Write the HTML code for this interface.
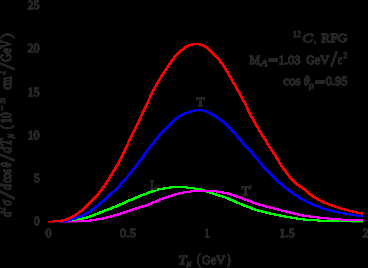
<!DOCTYPE html>
<html><head><meta charset="utf-8"><style>
html,body{margin:0;padding:0;background:#000;}
body{width:368px;height:268px;overflow:hidden;position:relative;}
svg{position:absolute;left:0;top:0;display:block;}
text{font-family:"Liberation Serif",serif;}
</style></head><body>
<svg width="368" height="268" viewBox="0 0 368 268">
<g shape-rendering="crispEdges">
<path fill="#00ff00" d="M169 186h19v1h-19zM163 187h32v1h-32zM157 188h14v1h-14zM186 188h16v1h-16zM154 189h11v1h-11zM194 189h11v1h-11zM151 190h8v1h-8zM200 190h8v1h-8zM148 191h8v1h-8zM203 191h8v1h-8zM146 192h7v1h-7zM206 192h8v1h-8zM143 193h7v1h-7zM209 193h8v1h-8zM140 194h7v1h-7zM212 194h8v1h-8zM138 195h7v1h-7zM215 195h8v1h-8zM135 196h7v1h-7zM218 196h8v1h-8zM133 197h7v1h-7zM222 197h7v1h-7zM131 198h6v1h-6zM225 198h6v1h-6zM128 199h7v1h-7zM227 199h7v1h-7zM126 200h7v1h-7zM229 200h7v1h-7zM124 201h6v1h-6zM232 201h6v1h-6zM122 202h6v1h-6zM234 202h6v1h-6zM119 203h7v1h-7zM236 203h7v1h-7zM117 204h7v1h-7zM239 204h6v1h-6zM115 205h6v1h-6zM241 205h7v1h-7zM112 206h7v1h-7zM243 206h8v1h-8zM110 207h7v1h-7zM246 207h7v1h-7zM107 208h7v1h-7zM249 208h7v1h-7zM104 209h8v1h-8zM251 209h8v1h-8zM102 210h7v1h-7zM254 210h9v1h-9zM99 211h7v1h-7zM257 211h10v1h-10zM97 212h7v1h-7zM261 212h10v1h-10zM94 213h7v1h-7zM265 213h11v1h-11zM92 214h7v1h-7zM269 214h12v1h-12zM89 215h7v1h-7zM274 215h12v1h-12zM86 216h8v1h-8zM279 216h13v1h-13zM82 217h9v1h-9zM284 217h14v1h-14zM78 218h10v1h-10zM290 218h15v1h-15zM72 219h12v1h-12zM296 219h23v1h-23zM64 220h16v1h-16zM303 220h50v1h-50zM48 221h26v1h-26zM317 221h46v1h-46zM48 222h18v1h-18zM351 222h12v1h-12z"/>
<path fill="#ff00ff" d="M190 190h28v1h-28zM183 191h41v1h-41zM178 192h13v1h-13zM216 192h13v1h-13zM174 193h10v1h-10zM222 193h10v1h-10zM171 194h9v1h-9zM227 194h8v1h-8zM168 195h8v1h-8zM230 195h8v1h-8zM165 196h8v1h-8zM233 196h8v1h-8zM162 197h8v1h-8zM236 197h7v1h-7zM159 198h8v1h-8zM239 198h7v1h-7zM157 199h7v1h-7zM242 199h7v1h-7zM155 200h6v1h-6zM244 200h8v1h-8zM152 201h7v1h-7zM247 201h7v1h-7zM150 202h7v1h-7zM250 202h7v1h-7zM148 203h6v1h-6zM252 203h8v1h-8zM145 204h7v1h-7zM255 204h9v1h-9zM141 205h9v1h-9zM258 205h9v1h-9zM138 206h9v1h-9zM262 206h9v1h-9zM135 207h8v1h-8zM265 207h10v1h-10zM132 208h8v1h-8zM269 208h10v1h-10zM129 209h8v1h-8zM273 209h9v1h-9zM126 210h8v1h-8zM277 210h10v1h-10zM123 211h8v1h-8zM281 211h10v1h-10zM120 212h8v1h-8zM285 212h10v1h-10zM117 213h8v1h-8zM289 213h10v1h-10zM113 214h9v1h-9zM293 214h11v1h-11zM110 215h9v1h-9zM297 215h14v1h-14zM106 216h9v1h-9zM302 216h17v1h-17zM102 217h10v1h-10zM309 217h20v1h-20zM96 218h12v1h-12zM317 218h24v1h-24zM89 219h15v1h-15zM327 219h36v1h-36zM76 220h21v1h-21zM339 220h24v1h-24zM48 221h43v1h-43zM48 222h30v1h-30z"/>
<path fill="#0000ff" d="M194 109h10v1h-10zM190 110h17v1h-17zM187 111h9v1h-9zM202 111h8v1h-8zM184 112h8v1h-8zM205 112h6v1h-6zM182 113h7v1h-7zM208 113h5v1h-5zM180 114h6v1h-6zM209 114h6v1h-6zM178 115h6v1h-6zM211 115h6v1h-6zM177 116h5v1h-5zM213 116h5v1h-5zM175 117h5v1h-5zM215 117h5v1h-5zM174 118h5v1h-5zM216 118h5v1h-5zM173 119h4v1h-4zM218 119h4v1h-4zM172 120h4v1h-4zM219 120h5v1h-5zM171 121h4v1h-4zM220 121h5v1h-5zM170 122h4v1h-4zM222 122h4v1h-4zM169 123h4v1h-4zM223 123h4v1h-4zM168 124h4v1h-4zM224 124h4v1h-4zM167 125h4v1h-4zM225 125h4v1h-4zM166 126h4v1h-4zM226 126h4v1h-4zM165 127h4v1h-4zM227 127h4v1h-4zM164 128h4v1h-4zM228 128h4v1h-4zM163 129h4v1h-4zM229 129h4v1h-4zM162 130h4v1h-4zM230 130h4v1h-4zM161 131h4v1h-4zM231 131h4v1h-4zM160 132h4v1h-4zM232 132h4v1h-4zM159 133h4v1h-4zM233 133h4v1h-4zM158 134h4v1h-4zM234 134h4v1h-4zM158 135h3v1h-3zM235 135h3v1h-3zM157 136h3v1h-3zM236 136h3v1h-3zM156 137h3v1h-3zM236 137h4v1h-4zM155 138h4v1h-4zM237 138h4v1h-4zM154 139h4v1h-4zM238 139h4v1h-4zM153 140h4v1h-4zM239 140h4v1h-4zM153 141h3v1h-3zM240 141h3v1h-3zM152 142h3v1h-3zM241 142h3v1h-3zM151 143h4v1h-4zM242 143h3v1h-3zM150 144h4v1h-4zM242 144h4v1h-4zM149 145h4v1h-4zM243 145h4v1h-4zM149 146h3v1h-3zM244 146h4v1h-4zM148 147h3v1h-3zM245 147h4v1h-4zM147 148h4v1h-4zM246 148h4v1h-4zM146 149h4v1h-4zM247 149h4v1h-4zM146 150h3v1h-3zM248 150h4v1h-4zM145 151h3v1h-3zM249 151h4v1h-4zM144 152h3v1h-3zM250 152h3v1h-3zM143 153h4v1h-4zM251 153h3v1h-3zM143 154h3v1h-3zM252 154h3v1h-3zM142 155h3v1h-3zM252 155h4v1h-4zM141 156h4v1h-4zM253 156h4v1h-4zM141 157h3v1h-3zM254 157h4v1h-4zM140 158h3v1h-3zM255 158h4v1h-4zM139 159h4v1h-4zM256 159h3v1h-3zM138 160h4v1h-4zM257 160h3v1h-3zM138 161h3v1h-3zM257 161h4v1h-4zM137 162h3v1h-3zM258 162h4v1h-4zM136 163h4v1h-4zM259 163h4v1h-4zM135 164h4v1h-4zM260 164h3v1h-3zM135 165h3v1h-3zM261 165h3v1h-3zM134 166h3v1h-3zM261 166h4v1h-4zM133 167h4v1h-4zM262 167h4v1h-4zM132 168h4v1h-4zM263 168h4v1h-4zM131 169h4v1h-4zM264 169h4v1h-4zM131 170h3v1h-3zM265 170h4v1h-4zM130 171h3v1h-3zM266 171h4v1h-4zM129 172h4v1h-4zM267 172h4v1h-4zM128 173h4v1h-4zM268 173h4v1h-4zM127 174h4v1h-4zM269 174h4v1h-4zM127 175h3v1h-3zM270 175h4v1h-4zM126 176h3v1h-3zM271 176h4v1h-4zM125 177h3v1h-3zM272 177h4v1h-4zM124 178h4v1h-4zM273 178h4v1h-4zM123 179h4v1h-4zM274 179h4v1h-4zM122 180h4v1h-4zM275 180h4v1h-4zM121 181h4v1h-4zM276 181h4v1h-4zM120 182h4v1h-4zM277 182h5v1h-5zM120 183h3v1h-3zM278 183h5v1h-5zM119 184h3v1h-3zM280 184h4v1h-4zM118 185h4v1h-4zM281 185h4v1h-4zM117 186h4v1h-4zM282 186h4v1h-4zM116 187h4v1h-4zM283 187h5v1h-5zM115 188h4v1h-4zM284 188h5v1h-5zM114 189h4v1h-4zM286 189h4v1h-4zM113 190h4v1h-4zM287 190h5v1h-5zM111 191h5v1h-5zM288 191h5v1h-5zM110 192h4v1h-4zM290 192h4v1h-4zM109 193h4v1h-4zM291 193h5v1h-5zM108 194h4v1h-4zM292 194h5v1h-5zM107 195h4v1h-4zM294 195h5v1h-5zM106 196h4v1h-4zM295 196h5v1h-5zM105 197h4v1h-4zM297 197h5v1h-5zM104 198h4v1h-4zM298 198h6v1h-6zM103 199h4v1h-4zM300 199h6v1h-6zM102 200h4v1h-4zM302 200h6v1h-6zM100 201h5v1h-5zM304 201h6v1h-6zM99 202h5v1h-5zM306 202h6v1h-6zM98 203h4v1h-4zM308 203h6v1h-6zM97 204h4v1h-4zM310 204h6v1h-6zM96 205h4v1h-4zM312 205h7v1h-7zM94 206h5v1h-5zM314 206h8v1h-8zM93 207h5v1h-5zM317 207h7v1h-7zM91 208h5v1h-5zM320 208h8v1h-8zM90 209h5v1h-5zM322 209h9v1h-9zM89 210h4v1h-4zM326 210h9v1h-9zM87 211h5v1h-5zM329 211h11v1h-11zM85 212h6v1h-6zM333 212h12v1h-12zM83 213h6v1h-6zM338 213h13v1h-13zM81 214h6v1h-6zM343 214h14v1h-14zM79 215h6v1h-6zM349 215h14v1h-14zM76 216h7v1h-7zM355 216h8v1h-8zM74 217h7v1h-7zM70 218h8v1h-8zM66 219h10v1h-10zM57 220h15v1h-15zM48 221h20v1h-20zM48 222h11v1h-11z"/>
<path fill="#ff0000" d="M191 43h10v1h-10zM188 44h16v1h-16zM186 45h7v1h-7zM199 45h7v1h-7zM184 46h6v1h-6zM202 46h6v1h-6zM183 47h5v1h-5zM204 47h5v1h-5zM182 48h4v1h-4zM206 48h4v1h-4zM180 49h5v1h-5zM207 49h4v1h-4zM179 50h5v1h-5zM208 50h4v1h-4zM178 51h4v1h-4zM209 51h4v1h-4zM177 52h4v1h-4zM210 52h4v1h-4zM176 53h4v1h-4zM211 53h4v1h-4zM175 54h4v1h-4zM212 54h4v1h-4zM174 55h4v1h-4zM213 55h4v1h-4zM173 56h4v1h-4zM214 56h4v1h-4zM173 57h3v1h-3zM215 57h4v1h-4zM172 58h3v1h-3zM216 58h4v1h-4zM171 59h4v1h-4zM217 59h4v1h-4zM170 60h4v1h-4zM218 60h3v1h-3zM170 61h3v1h-3zM219 61h3v1h-3zM169 62h3v1h-3zM219 62h4v1h-4zM168 63h4v1h-4zM220 63h4v1h-4zM168 64h3v1h-3zM221 64h3v1h-3zM167 65h3v1h-3zM222 65h3v1h-3zM166 66h4v1h-4zM222 66h4v1h-4zM166 67h3v1h-3zM223 67h3v1h-3zM165 68h3v1h-3zM224 68h3v1h-3zM164 69h4v1h-4zM224 69h3v1h-3zM164 70h3v1h-3zM225 70h3v1h-3zM163 71h3v1h-3zM225 71h4v1h-4zM162 72h4v1h-4zM226 72h3v1h-3zM162 73h3v1h-3zM227 73h3v1h-3zM161 74h3v1h-3zM227 74h3v1h-3zM160 75h4v1h-4zM228 75h3v1h-3zM160 76h3v1h-3zM228 76h4v1h-4zM159 77h3v1h-3zM229 77h3v1h-3zM159 78h3v1h-3zM230 78h3v1h-3zM158 79h3v1h-3zM230 79h3v1h-3zM157 80h4v1h-4zM231 80h3v1h-3zM157 81h3v1h-3zM231 81h3v1h-3zM156 82h3v1h-3zM232 82h3v1h-3zM156 83h3v1h-3zM232 83h4v1h-4zM155 84h3v1h-3zM233 84h3v1h-3zM155 85h3v1h-3zM234 85h3v1h-3zM154 86h3v1h-3zM234 86h3v1h-3zM153 87h3v1h-3zM235 87h3v1h-3zM153 88h3v1h-3zM235 88h3v1h-3zM152 89h3v1h-3zM236 89h3v1h-3zM152 90h3v1h-3zM236 90h4v1h-4zM151 91h3v1h-3zM237 91h3v1h-3zM151 92h3v1h-3zM238 92h3v1h-3zM150 93h3v1h-3zM238 93h3v1h-3zM150 94h3v1h-3zM239 94h3v1h-3zM149 95h3v1h-3zM239 95h3v1h-3zM149 96h3v1h-3zM240 96h3v1h-3zM149 97h2v1h-2zM240 97h3v1h-3zM148 98h3v1h-3zM241 98h3v1h-3zM148 99h2v1h-2zM241 99h3v1h-3zM147 100h3v1h-3zM242 100h3v1h-3zM147 101h3v1h-3zM242 101h4v1h-4zM146 102h3v1h-3zM243 102h3v1h-3zM146 103h3v1h-3zM244 103h3v1h-3zM145 104h3v1h-3zM244 104h3v1h-3zM145 105h3v1h-3zM245 105h2v1h-2zM144 106h3v1h-3zM245 106h3v1h-3zM144 107h3v1h-3zM246 107h2v1h-2zM143 108h3v1h-3zM246 108h3v1h-3zM143 109h3v1h-3zM246 109h3v1h-3zM142 110h3v1h-3zM247 110h3v1h-3zM142 111h3v1h-3zM247 111h3v1h-3zM141 112h3v1h-3zM248 112h3v1h-3zM141 113h3v1h-3zM248 113h3v1h-3zM141 114h2v1h-2zM249 114h3v1h-3zM140 115h3v1h-3zM249 115h3v1h-3zM140 116h2v1h-2zM250 116h3v1h-3zM139 117h3v1h-3zM250 117h4v1h-4zM139 118h3v1h-3zM251 118h3v1h-3zM138 119h3v1h-3zM252 119h3v1h-3zM138 120h3v1h-3zM252 120h3v1h-3zM137 121h3v1h-3zM253 121h3v1h-3zM137 122h3v1h-3zM253 122h3v1h-3zM136 123h3v1h-3zM254 123h3v1h-3zM136 124h3v1h-3zM254 124h3v1h-3zM135 125h3v1h-3zM255 125h3v1h-3zM135 126h3v1h-3zM255 126h4v1h-4zM134 127h3v1h-3zM256 127h3v1h-3zM134 128h3v1h-3zM257 128h3v1h-3zM133 129h3v1h-3zM257 129h3v1h-3zM133 130h3v1h-3zM258 130h3v1h-3zM132 131h3v1h-3zM258 131h4v1h-4zM132 132h3v1h-3zM259 132h3v1h-3zM131 133h3v1h-3zM260 133h3v1h-3zM131 134h3v1h-3zM260 134h3v1h-3zM130 135h3v1h-3zM261 135h3v1h-3zM130 136h3v1h-3zM261 136h4v1h-4zM129 137h3v1h-3zM262 137h3v1h-3zM129 138h3v1h-3zM263 138h3v1h-3zM128 139h3v1h-3zM263 139h4v1h-4zM128 140h3v1h-3zM264 140h3v1h-3zM127 141h3v1h-3zM265 141h3v1h-3zM127 142h3v1h-3zM265 142h3v1h-3zM127 143h2v1h-2zM266 143h3v1h-3zM126 144h3v1h-3zM266 144h4v1h-4zM126 145h3v1h-3zM267 145h3v1h-3zM125 146h3v1h-3zM268 146h3v1h-3zM125 147h3v1h-3zM268 147h4v1h-4zM124 148h3v1h-3zM269 148h3v1h-3zM124 149h3v1h-3zM270 149h3v1h-3zM123 150h3v1h-3zM270 150h4v1h-4zM123 151h3v1h-3zM271 151h3v1h-3zM122 152h3v1h-3zM272 152h3v1h-3zM122 153h3v1h-3zM272 153h3v1h-3zM121 154h3v1h-3zM273 154h3v1h-3zM121 155h3v1h-3zM274 155h3v1h-3zM120 156h3v1h-3zM274 156h3v1h-3zM120 157h3v1h-3zM275 157h3v1h-3zM119 158h3v1h-3zM275 158h4v1h-4zM119 159h3v1h-3zM276 159h3v1h-3zM118 160h3v1h-3zM277 160h3v1h-3zM118 161h3v1h-3zM277 161h3v1h-3zM117 162h3v1h-3zM278 162h3v1h-3zM117 163h3v1h-3zM278 163h4v1h-4zM116 164h3v1h-3zM279 164h3v1h-3zM115 165h4v1h-4zM280 165h3v1h-3zM115 166h3v1h-3zM280 166h4v1h-4zM114 167h3v1h-3zM281 167h3v1h-3zM114 168h3v1h-3zM282 168h3v1h-3zM113 169h3v1h-3zM282 169h4v1h-4zM112 170h4v1h-4zM283 170h4v1h-4zM112 171h3v1h-3zM284 171h3v1h-3zM111 172h3v1h-3zM285 172h3v1h-3zM111 173h3v1h-3zM285 173h4v1h-4zM110 174h3v1h-3zM286 174h4v1h-4zM109 175h4v1h-4zM287 175h3v1h-3zM109 176h3v1h-3zM288 176h3v1h-3zM108 177h3v1h-3zM288 177h4v1h-4zM108 178h3v1h-3zM289 178h4v1h-4zM107 179h3v1h-3zM290 179h4v1h-4zM106 180h4v1h-4zM291 180h4v1h-4zM106 181h3v1h-3zM292 181h4v1h-4zM105 182h3v1h-3zM293 182h4v1h-4zM104 183h4v1h-4zM294 183h4v1h-4zM104 184h3v1h-3zM295 184h5v1h-5zM103 185h3v1h-3zM296 185h5v1h-5zM102 186h4v1h-4zM298 186h5v1h-5zM101 187h4v1h-4zM299 187h5v1h-5zM101 188h3v1h-3zM301 188h5v1h-5zM100 189h3v1h-3zM302 189h5v1h-5zM99 190h4v1h-4zM304 190h4v1h-4zM98 191h4v1h-4zM305 191h4v1h-4zM98 192h3v1h-3zM306 192h4v1h-4zM97 193h3v1h-3zM307 193h4v1h-4zM96 194h4v1h-4zM308 194h5v1h-5zM95 195h4v1h-4zM309 195h5v1h-5zM94 196h4v1h-4zM311 196h5v1h-5zM93 197h4v1h-4zM312 197h6v1h-6zM92 198h4v1h-4zM314 198h5v1h-5zM91 199h4v1h-4zM316 199h5v1h-5zM90 200h4v1h-4zM317 200h6v1h-6zM89 201h4v1h-4zM319 201h6v1h-6zM88 202h4v1h-4zM321 202h7v1h-7zM87 203h4v1h-4zM323 203h7v1h-7zM86 204h4v1h-4zM326 204h7v1h-7zM85 205h4v1h-4zM328 205h8v1h-8zM84 206h4v1h-4zM331 206h8v1h-8zM83 207h4v1h-4zM334 207h8v1h-8zM82 208h4v1h-4zM337 208h9v1h-9zM81 209h4v1h-4zM340 209h9v1h-9zM79 210h5v1h-5zM344 210h10v1h-10zM78 211h5v1h-5zM348 211h10v1h-10zM77 212h4v1h-4zM352 212h11v1h-11zM75 213h5v1h-5zM356 213h7v1h-7zM74 214h4v1h-4zM361 214h2v1h-2zM72 215h5v1h-5zM70 216h5v1h-5zM68 217h6v1h-6zM65 218h7v1h-7zM61 219h9v1h-9zM53 220h14v1h-14zM48 221h15v1h-15zM48 222h7v1h-7z"/>
<rect x="48" y="222" width="320" height="1" fill="#000" fill-opacity="0.6"/>
</g>
<defs><filter id="th" x="0" y="0" width="368" height="268" filterUnits="userSpaceOnUse" color-interpolation-filters="sRGB"><feComponentTransfer><feFuncA type="linear" slope="3" intercept="0"/></feComponentTransfer></filter></defs>
<g fill="#272525" stroke="#272525" filter="url(#th)">
<text x="27.50" y="9.00" font-size="13.30" stroke-width="0.80" textLength="12.10" lengthAdjust="spacingAndGlyphs">25</text>
<text x="27.50" y="52.40" font-size="13.30" stroke-width="0.80" textLength="12.10" lengthAdjust="spacingAndGlyphs">20</text>
<text x="27.50" y="95.50" font-size="13.30" stroke-width="0.80" textLength="12.10" lengthAdjust="spacingAndGlyphs">15</text>
<text x="27.50" y="138.90" font-size="13.30" stroke-width="0.80" textLength="12.10" lengthAdjust="spacingAndGlyphs">10</text>
<text x="34.00" y="182.20" font-size="13.30" stroke-width="0.80" textLength="5.60" lengthAdjust="spacingAndGlyphs">5</text>
<text x="34.00" y="225.30" font-size="13.30" stroke-width="0.80" textLength="5.60" lengthAdjust="spacingAndGlyphs">0</text>
<text x="45.50" y="236.70" font-size="13.30" stroke-width="0.80" textLength="6.00" lengthAdjust="spacingAndGlyphs">0</text>
<text x="119.70" y="236.70" font-size="13.30" stroke-width="0.80" textLength="16.30" lengthAdjust="spacingAndGlyphs">0.5</text>
<text x="204.80" y="236.70" font-size="13.30" stroke-width="0.80" textLength="4.90" lengthAdjust="spacingAndGlyphs">1</text>
<text x="279.20" y="236.70" font-size="13.30" stroke-width="0.80" textLength="15.40" lengthAdjust="spacingAndGlyphs">1.5</text>
<text x="362.50" y="236.70" font-size="13.30" stroke-width="0.80" textLength="6.00" lengthAdjust="spacingAndGlyphs">2</text>
<text x="178.60" y="263.50" font-size="13.30" stroke-width="0.80" textLength="8.00" lengthAdjust="spacingAndGlyphs" font-style="italic">T</text>
<text x="186.60" y="265.80" font-size="9.00" stroke-width="0.60" textLength="4.90" lengthAdjust="spacingAndGlyphs" font-style="italic">&#956;</text>
<text x="197.20" y="263.90" font-size="14.80" stroke-width="0.80" textLength="3.20" lengthAdjust="spacingAndGlyphs">(</text>
<text x="201.80" y="263.50" font-size="13.30" stroke-width="0.80" textLength="23.60" lengthAdjust="spacingAndGlyphs">GeV</text>
<text x="227.10" y="263.90" font-size="14.80" stroke-width="0.80" textLength="3.50" lengthAdjust="spacingAndGlyphs">)</text>
<text x="293.00" y="37.00" font-size="9.00" stroke-width="0.60" textLength="8.00" lengthAdjust="spacingAndGlyphs">12</text>
<text x="302.20" y="42.40" font-size="13.30" stroke-width="0.80" textLength="10.60" lengthAdjust="spacingAndGlyphs" font-style="italic">C</text>
<text x="314.40" y="42.40" font-size="13.30" stroke-width="0.80" textLength="1.40" lengthAdjust="spacingAndGlyphs">,</text>
<text x="320.90" y="42.40" font-size="13.30" stroke-width="0.80" textLength="26.45" lengthAdjust="spacingAndGlyphs">RFG</text>
<text x="249.60" y="63.50" font-size="13.30" stroke-width="0.80" textLength="10.70" lengthAdjust="spacingAndGlyphs">M</text>
<text x="260.60" y="65.70" font-size="7.80" stroke-width="0.60" textLength="7.10" lengthAdjust="spacingAndGlyphs" font-style="italic">A</text>
<rect x="268.7" y="58.2" width="9.1" height="3.4" stroke="none"/>
<text x="278.60" y="63.50" font-size="13.30" stroke-width="0.80" textLength="22.00" lengthAdjust="spacingAndGlyphs">1.03</text>
<text x="305.90" y="63.50" font-size="13.30" stroke-width="0.80" textLength="23.45" lengthAdjust="spacingAndGlyphs">GeV</text>
<text x="330.70" y="66.10" font-size="21.50" stroke-width="0.80" textLength="6.30" lengthAdjust="spacingAndGlyphs">/</text>
<text x="337.70" y="63.50" font-size="13.30" stroke-width="0.80" textLength="4.20" lengthAdjust="spacingAndGlyphs">c</text>
<text x="343.30" y="57.80" font-size="9.00" stroke-width="0.60" textLength="4.15" lengthAdjust="spacingAndGlyphs">2</text>
<text x="283.20" y="85.30" font-size="13.30" stroke-width="0.80" textLength="17.40" lengthAdjust="spacingAndGlyphs">cos</text>
<text x="303.90" y="85.30" font-size="13.30" stroke-width="0.80" textLength="5.45" lengthAdjust="spacingAndGlyphs" font-style="italic">&#952;</text>
<text x="308.90" y="87.60" font-size="9.00" stroke-width="0.60" textLength="5.10" lengthAdjust="spacingAndGlyphs" font-style="italic">&#956;</text>
<rect x="315.4" y="80.4" width="9.6" height="3.3" stroke="none"/>
<text x="325.70" y="85.30" font-size="13.30" stroke-width="0.80" textLength="21.65" lengthAdjust="spacingAndGlyphs">0.95</text>
<text x="196.40" y="106.30" font-size="13.30" stroke-width="0.80" textLength="8.20" lengthAdjust="spacingAndGlyphs">T</text>
<text x="149.90" y="189.20" font-size="13.30" stroke-width="0.80" textLength="7.20" lengthAdjust="spacingAndGlyphs">L</text>
<text x="241.40" y="194.70" font-size="13.30" stroke-width="0.80" textLength="7.90" lengthAdjust="spacingAndGlyphs">T</text>
<text x="249.70" y="193.70" font-size="13.30" stroke-width="0.80" textLength="1.90" lengthAdjust="spacingAndGlyphs">&#8242;</text>
<g transform="translate(11.0,217.5) rotate(-90)">
<text x="0.40" y="0.00" font-size="14.10" stroke-width="0.80" textLength="5.45" lengthAdjust="spacingAndGlyphs" font-style="italic">d</text>
<text x="6.70" y="-6.20" font-size="9.45" stroke-width="0.60" textLength="3.50" lengthAdjust="spacingAndGlyphs">2</text>
<text x="11.65" y="0.00" font-size="14.10" stroke-width="0.80" textLength="5.45" lengthAdjust="spacingAndGlyphs" font-style="italic">&#963;</text>
<text x="18.40" y="2.60" font-size="21.50" stroke-width="0.80" textLength="8.20" lengthAdjust="spacingAndGlyphs">/</text>
<text x="27.40" y="0.00" font-size="14.10" stroke-width="0.80" textLength="5.95" lengthAdjust="spacingAndGlyphs" font-style="italic">d</text>
<text x="34.40" y="0.00" font-size="14.10" stroke-width="0.80" textLength="13.95" lengthAdjust="spacingAndGlyphs">cos</text>
<text x="49.90" y="0.00" font-size="14.10" stroke-width="0.80" textLength="5.20" lengthAdjust="spacingAndGlyphs" font-style="italic">&#952;</text>
<text x="56.65" y="2.60" font-size="21.50" stroke-width="0.80" textLength="6.70" lengthAdjust="spacingAndGlyphs">/</text>
<text x="64.15" y="0.00" font-size="14.10" stroke-width="0.80" textLength="6.45" lengthAdjust="spacingAndGlyphs" font-style="italic">d</text>
<text x="71.40" y="0.00" font-size="14.10" stroke-width="0.80" textLength="7.10" lengthAdjust="spacingAndGlyphs" font-style="italic">T</text>
<text x="79.20" y="2.30" font-size="9.45" stroke-width="0.60" textLength="4.40" lengthAdjust="spacingAndGlyphs" font-style="italic">&#956;</text>
<text x="87.90" y="-0.40" font-size="15.50" stroke-width="0.80" textLength="4.70" lengthAdjust="spacingAndGlyphs">(</text>
<text x="94.15" y="0.00" font-size="14.10" stroke-width="0.80" textLength="10.95" lengthAdjust="spacingAndGlyphs">10</text>
<text x="106.55" y="-6.20" font-size="9.45" stroke-width="0.60" textLength="5.85" lengthAdjust="spacingAndGlyphs">&#8722;</text>
<text x="113.50" y="-6.20" font-size="9.45" stroke-width="0.60" textLength="6.20" lengthAdjust="spacingAndGlyphs">39</text>
<text x="127.90" y="0.00" font-size="14.10" stroke-width="0.80" textLength="12.95" lengthAdjust="spacingAndGlyphs">cm</text>
<text x="142.80" y="-6.20" font-size="9.45" stroke-width="0.60" textLength="3.90" lengthAdjust="spacingAndGlyphs">2</text>
<text x="147.90" y="2.60" font-size="21.50" stroke-width="0.80" textLength="6.70" lengthAdjust="spacingAndGlyphs">/</text>
<text x="155.40" y="0.00" font-size="14.10" stroke-width="0.80" textLength="22.20" lengthAdjust="spacingAndGlyphs">GeV</text>
<text x="179.15" y="-0.40" font-size="15.50" stroke-width="0.80" textLength="4.95" lengthAdjust="spacingAndGlyphs">)</text>
</g>
</g>
</svg>
</body></html>
